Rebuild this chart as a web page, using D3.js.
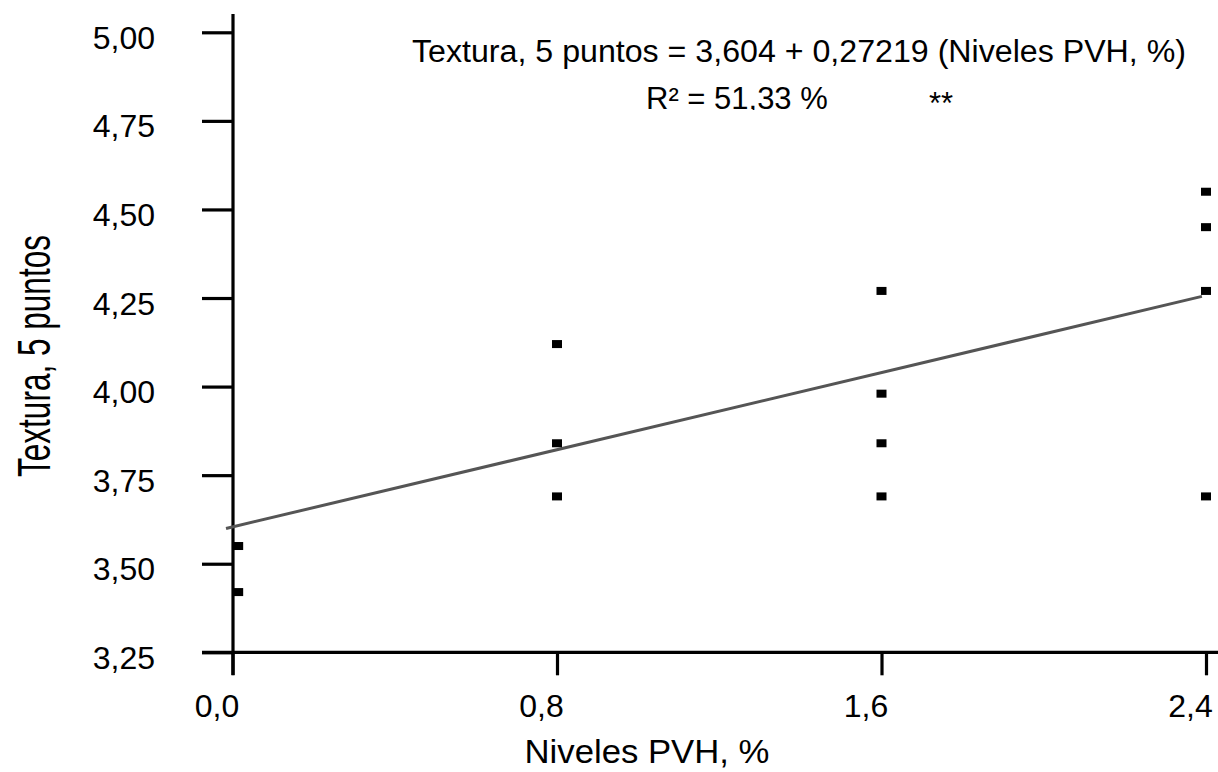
<!DOCTYPE html>
<html>
<head>
<meta charset="utf-8">
<script src="https://cdn.jsdelivr.net/npm/d3@7"></script>
<style>
  body { margin: 0; background: #fff; }
  svg { display: block; }
  text { font-family: "Liberation Sans", Arial, sans-serif; fill: #000; }
</style>
</head>
<body>
<div id="chart"></div>
<script>
// values
var nivelesPVH = [0.014, 0.014, 0.8, 0.8, 0.8, 1.6, 1.6, 1.6, 1.6, 2.4, 2.4, 2.4, 2.4];
var textura    = [3.55, 3.42, 4.12, 3.84, 3.69, 4.27, 3.98, 3.84, 3.69, 4.55, 4.45, 4.27, 3.69];

var xTicks = [0, 0.8, 1.6, 2.4];
var xTickLabels = ["0,0", "0,8", "1,6", "2,4"];
var yTicks = [3.25, 3.5, 3.75, 4.0, 4.25, 4.5, 4.75, 5.0];
var yTickLabels = ["3,25", "3,50", "3,75", "4,00", "4,25", "4,50", "4,75", "5,00"];

// fitted line from the equation in the chart
var intercept = 3.604;
var slope = 0.27219;
var lineX = [-0.016, 2.39];

var titleText = "Textura, 5 puntos = 3,604 + 0,27219 (Niveles PVH, %)";
var r2Text = "R\u00B2 = 51,33 %";
var signifText = "**";
var xLabel = "Niveles PVH, %";
var yLabel = "Textura, 5 puntos";

window.onload = function() {
    var w = 1218;
    var h = 772;

    var svg = d3.select("#chart")
                .append("svg")
                .attr("width", w)
                .attr("height", h);

    // scales
    var xScale = d3.scaleLinear()
                   .domain([0, 2.4])
                   .range([232.5, 1206]);
    var yScale = d3.scaleLinear()
                   .domain([3.25, 5.0])
                   .range([652.3, 32.3]);

    // y axis ticks and labels
    var yAxis = svg.append("g")
                   .attr("transform", "translate(233,0)")
                   .call(d3.axisLeft(yScale)
                           .tickValues(yTicks)
                           .tickFormat(function(d, i) { return yTickLabels[i]; })
                           .tickSize(31)
                           .tickPadding(47));
    yAxis.select(".domain").remove();
    yAxis.selectAll("line").attr("stroke", "#000").attr("stroke-width", 3.2);
    yAxis.selectAll("text")
         .attr("font-size", 32)
         .attr("dy", 16)
         .attr("font-family", "Liberation Sans, Arial, sans-serif");

    // x axis ticks and labels
    var xAxis = svg.append("g")
                   .attr("transform", "translate(0,652.3)")
                   .call(d3.axisBottom(xScale)
                           .tickValues(xTicks)
                           .tickFormat(function(d, i) { return xTickLabels[i]; })
                           .tickSize(23));
    xAxis.select(".domain").remove();
    xAxis.selectAll("line").attr("stroke", "#000").attr("stroke-width", 3.2);
    xAxis.selectAll("text")
         .attr("font-size", 32)
         .attr("y", 65)
         .attr("dy", 0)
         .attr("dx", -16)
         .attr("font-family", "Liberation Sans, Arial, sans-serif");

    // axis lines
    svg.append("line")
       .attr("x1", 233).attr("x2", 233)
       .attr("y1", 14).attr("y2", 675)
       .attr("stroke", "#000").attr("stroke-width", 3.2);
    svg.append("line")
       .attr("x1", 202).attr("x2", 1218)
       .attr("y1", 652.3).attr("y2", 652.3)
       .attr("stroke", "#000").attr("stroke-width", 3.2);

    // regression line
    svg.append("line")
       .attr("x1", xScale(lineX[0]))
       .attr("y1", yScale(intercept + slope * lineX[0]))
       .attr("x2", xScale(lineX[1]))
       .attr("y2", yScale(intercept + slope * lineX[1]))
       .attr("stroke", "#555")
       .attr("stroke-width", 3);

    // points
    var punten = nivelesPVH.map(function(d, i) { return {x: d, y: textura[i]}; });
    svg.selectAll("rect.punt")
       .data(punten)
       .enter()
       .append("rect")
       .attr("class", "punt")
       .attr("x", function(d) { return xScale(d.x) - 5; })
       .attr("y", function(d) { return yScale(d.y) - 4; })
       .attr("width", 10)
       .attr("height", 8)
       .attr("fill", "#000");

    // equation text
    svg.append("text")
       .attr("x", 412)
       .attr("y", 62)
       .attr("font-size", 31)
       .attr("textLength", 774)
       .attr("lengthAdjust", "spacingAndGlyphs")
       .text(titleText);

    // R2 line is cut off at the bottom in the original
    svg.append("clipPath")
       .attr("id", "knip")
       .append("rect")
       .attr("x", 600).attr("y", 70)
       .attr("width", 300).attr("height", 40);
    svg.append("text")
       .attr("x", 646)
       .attr("y", 108.5)
       .attr("font-size", 31)
       .attr("clip-path", "url(#knip)")
       .text(r2Text);

    svg.append("text")
       .attr("x", 929)
       .attr("y", 114)
       .attr("font-size", 31)
       .text(signifText);

    // axis labels
    svg.append("text")
       .attr("x", 647)
       .attr("y", 763)
       .attr("font-size", 34)
       .attr("text-anchor", "middle")
       .attr("textLength", 245)
       .attr("lengthAdjust", "spacingAndGlyphs")
       .text(xLabel);

    svg.append("text")
       .attr("transform", "translate(50,356) rotate(-90)")
       .attr("font-size", 47)
       .attr("text-anchor", "middle")
       .attr("textLength", 242)
       .attr("lengthAdjust", "spacingAndGlyphs")
       .text(yLabel);
};
</script>
</body>
</html>
